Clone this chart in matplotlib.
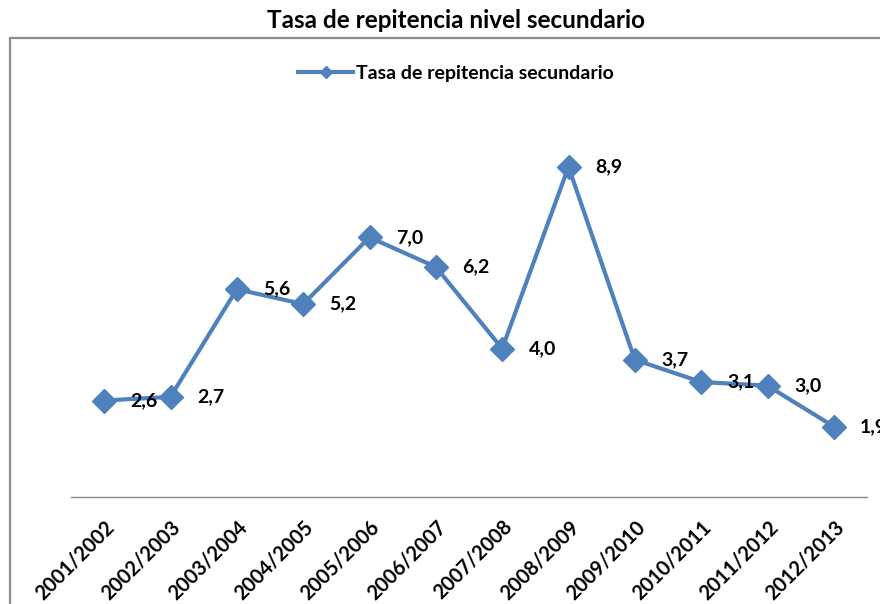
import matplotlib
matplotlib.use("Agg")
import matplotlib.pyplot as plt
from matplotlib.patches import Rectangle

categories = ["2001/2002", "2002/2003", "2003/2004", "2004/2005", "2005/2006", "2006/2007",
              "2007/2008", "2008/2009", "2009/2010", "2010/2011", "2011/2012", "2012/2013"]
values = [2.6, 2.7, 5.6, 5.2, 7.0, 6.2, 4.0, 8.9, 3.7, 3.1, 3.0, 1.9]
value_labels = ["2,6", "2,7", "5,6", "5,2", "7,0", "6,2", "4,0", "8,9", "3,7", "3,1", "3,0", "1,9"]
series_name = "Tasa de repitencia secundario"
title = "Tasa de repitencia nivel secundario"

plt.rcParams['font.family'] = ['Lato', 'DejaVu Sans']
W, H = 880, 604
fig = plt.figure(figsize=(W / 100, H / 100), dpi=100)

# chart border
fig.patches.append(Rectangle((10 / W, -0.1), 2.0, 1 - 38 / H + 0.1, transform=fig.transFigure,
                             fill=False, edgecolor="#8c8c8c", linewidth=1.6))

ax = fig.add_axes([71 / W, 1 - 497 / H, (867 - 71) / W, (497 - 126) / H])
ax.set_facecolor("none")
x = list(range(len(categories)))
color = "#4F81BD"
ax.plot(x, values, color=color, linewidth=3.0, marker="D", markersize=12, label=series_name)
for xi, v, lab in zip(x, values, value_labels):
    ax.annotate(lab, (xi, v), xytext=(19, 0), textcoords="offset points",
                ha="left", va="center", fontsize=14, fontweight="bold", annotation_clip=False)

ax.set_xlim(-0.5, len(categories) - 0.5)
ax.set_ylim(0, 10)
ax.set_xticks(x)
ax.set_xticklabels(categories, rotation=45, ha="right", rotation_mode="anchor",
                   fontsize=14.5, fontweight="bold")
ax.tick_params(axis="x", length=0, pad=14)
ax.set_yticks([])
for s in ["left", "right", "top"]:
    ax.spines[s].set_visible(False)
ax.spines["bottom"].set_color("#868686")
ax.spines["bottom"].set_linewidth(1.0)

fig.text(456 / W, 1 - 21 / H, title, ha="center", va="center", fontsize=17.5, fontweight="bold")
fig.legend(loc="center", bbox_to_anchor=(456 / W, 1 - 73 / H), frameon=False,
           prop={"size": 14, "weight": "bold"}, handlelength=2.8, handletextpad=0.15,
           markerscale=0.55)

fig.savefig("out.png", dpi=100)
